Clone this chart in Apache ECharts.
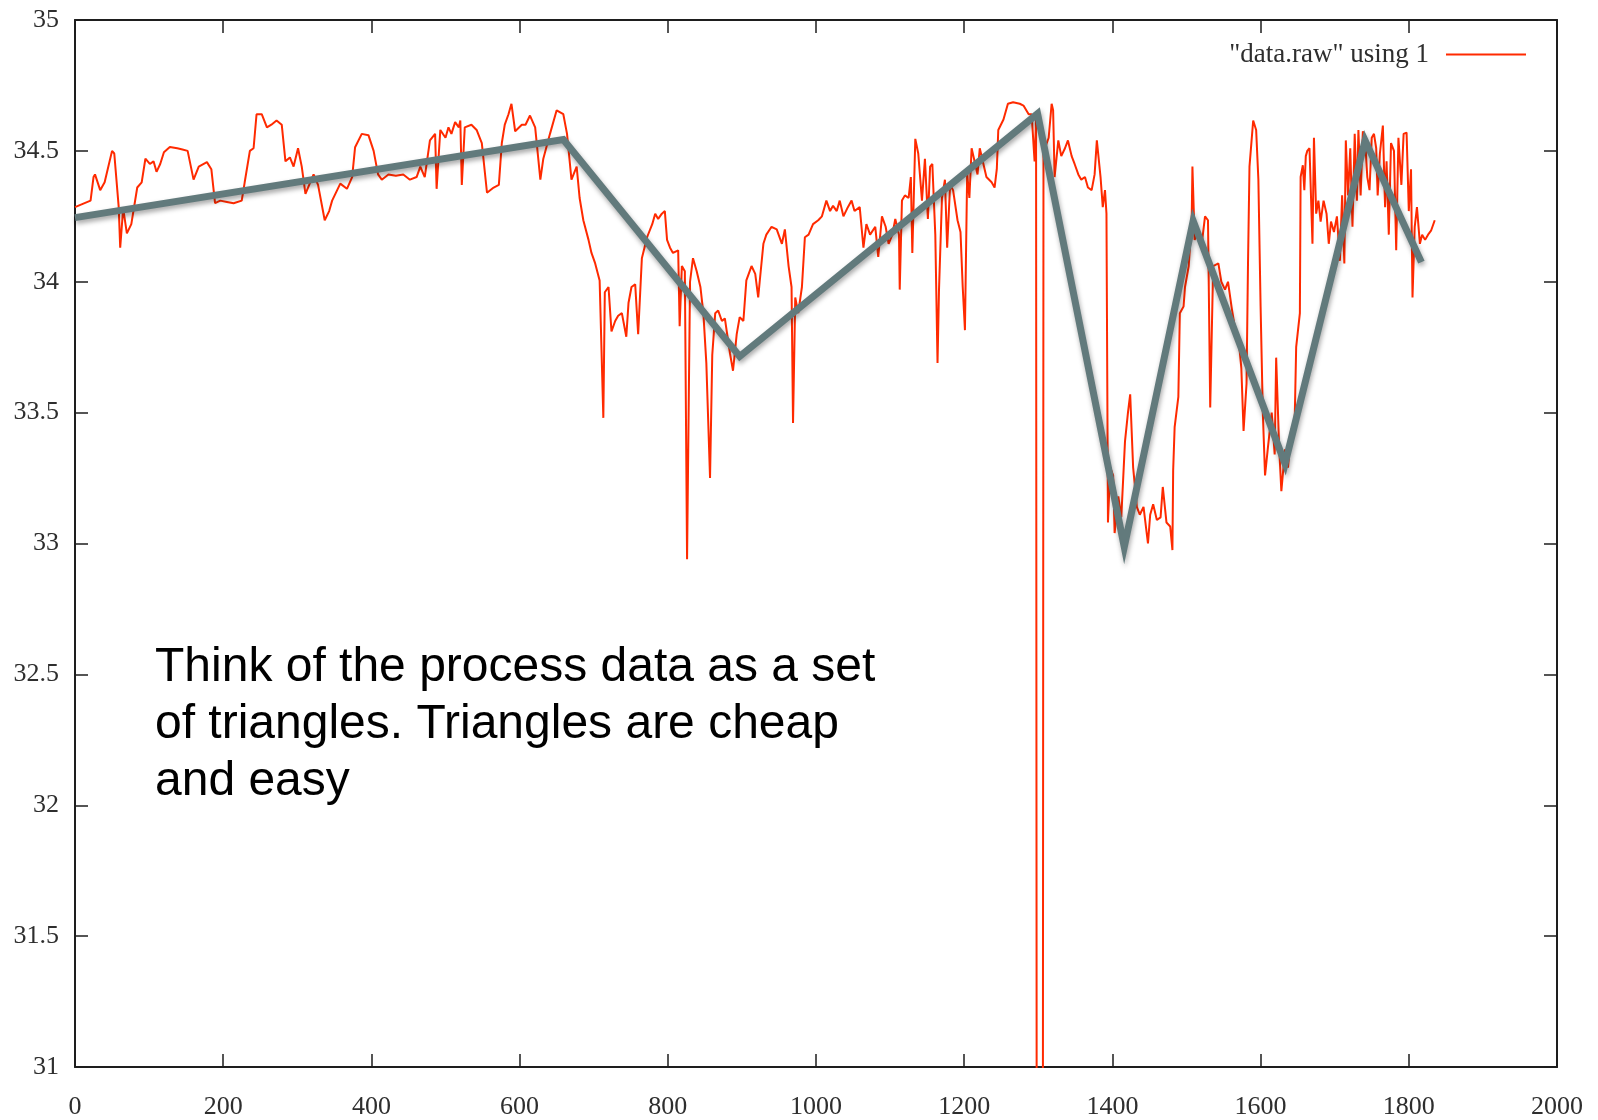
<!DOCTYPE html>
<html>
<head>
<meta charset="utf-8">
<title>data.raw</title>
<script src="https://cdn.jsdelivr.net/npm/echarts@6/dist/echarts.min.js"></script>
<style>
  html, body { margin: 0; padding: 0; background: #ffffff; }
  #chart { width: 1598px; height: 1120px; }
</style>
</head>
<body>
<div id="chart"></div>
<script>
// Sample index (column 0) of the raw process readings
const rawIndex = [
  0, 21, 25, 27, 34, 40, 50, 53, 59, 61,
  65, 70, 76, 84, 90, 95, 101, 106, 110, 115,
  120, 128, 138, 145, 152, 160, 167, 178, 184, 189,
  196, 205, 214, 225, 229, 236, 241, 245, 252, 259,
  265, 272, 279, 284, 290, 295, 301, 306, 311, 322,
  328, 337, 343, 347, 358, 367, 374, 378, 387, 396,
  403, 409, 414, 423, 433, 443, 452, 461, 466, 472,
  479, 486, 488, 493, 500, 504, 508, 513, 518, 520,
  522, 526, 535, 542, 549, 556, 565, 572, 576, 580,
  585, 589, 594, 603, 608, 614, 621, 628, 632, 641,
  650, 659, 664, 670, 677, 681, 686, 693, 697, 702,
  708, 713, 715, 720, 724, 729, 733, 738, 744, 747,
  751, 756, 760, 765, 772, 779, 783, 787, 792, 796,
  799, 803, 807, 814, 816, 819, 823, 826, 830, 834,
  839, 844, 848, 852, 857, 860, 864, 868, 873, 877,
  884, 888, 893, 897, 902, 906, 913, 918, 922, 924,
  929, 933, 940, 947, 954, 958, 963, 967, 969, 972,
  976, 981, 985, 990, 996, 1003, 1008, 1014, 1019, 1023,
  1028, 1032, 1037, 1043, 1048, 1052, 1059, 1064, 1068, 1073,
  1080, 1084, 1089, 1094, 1098, 1103, 1107, 1112, 1113, 1116,
  1120, 1125, 1128, 1130, 1134, 1138, 1143, 1147, 1151, 1154,
  1157, 1161, 1164, 1166, 1170, 1174, 1177, 1181, 1185, 1191,
  1195, 1198, 1201, 1204, 1207, 1210, 1214, 1218, 1221, 1230,
  1237, 1241, 1244, 1246, 1253, 1259, 1266, 1275, 1280, 1287,
  1291, 1295, 1297, 1298, 1306, 1307, 1309, 1314, 1318, 1320,
  1322, 1327, 1331, 1336, 1340, 1345, 1349, 1354, 1358, 1363,
  1367, 1372, 1376, 1379, 1384, 1387, 1390, 1392, 1394, 1397,
  1401, 1403, 1408, 1412, 1417, 1421, 1424, 1428, 1433, 1437,
  1442, 1448, 1451, 1455, 1460, 1465, 1468, 1473, 1478, 1481,
  1482, 1484, 1489, 1491, 1496, 1498, 1503, 1507, 1508, 1511,
  1516, 1520, 1525, 1529, 1532, 1536, 1543, 1547, 1552, 1556,
  1561, 1565, 1570, 1574, 1577, 1581, 1583, 1585, 1590, 1594,
  1597, 1600, 1603, 1606, 1610, 1615, 1619, 1621, 1625, 1628,
  1633, 1637, 1641, 1646, 1648, 1653, 1654, 1657, 1659, 1661,
  1663, 1666, 1670, 1672, 1675, 1678, 1681, 1685, 1689, 1692,
  1695, 1699, 1703, 1707, 1710, 1713, 1715, 1718, 1721, 1724,
  1727, 1730, 1732, 1735, 1738, 1741, 1744, 1747, 1750, 1753,
  1756, 1758, 1761, 1765, 1768, 1770, 1773, 1776, 1780, 1783,
  1786, 1790, 1793, 1797, 1800, 1803, 1805, 1808, 1811, 1815,
  1818, 1822, 1826, 1830, 1835
];

// Raw process readings (column 1 of data.raw), one row per row of rawIndex
const rawValues = [
  34.285, 34.31, 34.40, 34.41, 34.35, 34.38, 34.50, 34.49, 34.285, 34.13,
  34.28, 34.185, 34.22, 34.36, 34.38, 34.47, 34.45, 34.46, 34.42, 34.45,
  34.495, 34.515, 34.51, 34.505, 34.50, 34.39, 34.44, 34.457, 34.43, 34.30,
  34.31, 34.305, 34.30, 34.31, 34.38, 34.50, 34.51, 34.64, 34.64, 34.59,
  34.60, 34.616, 34.60, 34.46, 34.475, 34.44, 34.51, 34.44, 34.336, 34.41,
  34.37, 34.235, 34.27, 34.31, 34.375, 34.355, 34.40, 34.514, 34.565, 34.56,
  34.50, 34.41, 34.39, 34.41, 34.405, 34.41, 34.39, 34.40, 34.44, 34.40,
  34.54, 34.565, 34.355, 34.58, 34.55, 34.59, 34.565, 34.61, 34.59, 34.616,
  34.37, 34.59, 34.60, 34.58, 34.53, 34.34, 34.36, 34.37, 34.53, 34.60,
  34.64, 34.68, 34.575, 34.60, 34.60, 34.635, 34.59, 34.39, 34.47, 34.565,
  34.655, 34.64, 34.565, 34.39, 34.44, 34.32, 34.235, 34.16, 34.11, 34.07,
  34.005, 33.48, 33.96, 33.98, 33.81, 33.85, 33.87, 33.88, 33.79, 33.92,
  33.98, 33.99, 33.80, 34.09, 34.17, 34.22, 34.26, 34.24, 34.26, 34.27,
  34.16, 34.13, 34.11, 34.12, 33.83, 34.06, 34.04, 32.94, 34.00, 34.09,
  34.04, 33.98, 33.88, 33.69, 33.25, 33.72, 33.88, 33.89, 33.85, 33.86,
  33.725, 33.66, 33.80, 33.865, 33.85, 34.005, 34.06, 34.03, 33.94, 34.00,
  34.145, 34.18, 34.21, 34.20, 34.145, 34.20, 34.06, 33.98, 33.46, 33.94,
  33.88, 33.98, 34.17, 34.18, 34.22, 34.235, 34.25, 34.31, 34.27, 34.29,
  34.27, 34.31, 34.25, 34.285, 34.31, 34.27, 34.285, 34.13, 34.22, 34.18,
  34.21, 34.095, 34.25, 34.21, 34.145, 34.18, 34.24, 34.18, 33.97, 34.31,
  34.33, 34.32, 34.40, 34.11, 34.546, 34.49, 34.31, 34.47, 34.24, 34.44,
  34.45, 34.18, 33.69, 33.97, 34.32, 34.39, 34.13, 34.37, 34.35, 34.235,
  34.19, 33.98, 33.815, 34.415, 34.32, 34.51, 34.46, 34.41, 34.51, 34.40,
  34.38, 34.36, 34.43, 34.58, 34.62, 34.68, 34.686, 34.68, 34.673, 34.64,
  34.64, 34.46, 34.62, 30.0, 30.0, 34.55, 34.51, 34.55, 34.68, 34.655,
  34.40, 34.54, 34.48, 34.51, 34.54, 34.48, 34.45, 34.41, 34.39, 34.40,
  34.36, 34.35, 34.41, 34.54, 34.40, 34.285, 34.35, 34.26, 33.08, 33.29,
  33.26, 33.04, 33.18, 33.10, 33.39, 33.50, 33.57, 33.29, 33.14, 33.11,
  33.14, 33.00, 33.11, 33.15, 33.09, 33.10, 33.216, 33.08, 33.065, 32.975,
  33.28, 33.445, 33.56, 33.88, 33.905, 33.98, 34.06, 34.235, 34.44, 34.16,
  34.20, 34.13, 34.25, 34.235, 33.52, 34.06, 34.07, 34.00, 33.97, 34.00,
  33.90, 33.83, 33.79, 33.67, 33.43, 33.61, 34.07, 34.44, 34.616, 34.58,
  34.39, 33.905, 33.50, 33.26, 33.37, 33.50, 33.34, 33.71, 33.37, 33.20,
  33.36, 33.29, 33.43, 33.47, 33.75, 33.88, 34.40, 34.445, 34.35, 34.48,
  34.50, 34.51, 34.145, 34.55, 34.26, 34.31, 34.23, 34.31, 34.26, 34.145,
  34.23, 34.19, 34.25, 34.08, 34.33, 34.07, 34.54, 34.33, 34.51, 34.21,
  34.565, 34.31, 34.58, 34.33, 34.575, 34.54, 34.40, 34.35, 34.55, 34.565,
  34.51, 34.33, 34.49, 34.597, 34.285, 34.46, 34.18, 34.53, 34.50, 34.12,
  34.55, 34.37, 34.565, 34.57, 34.27, 34.43, 33.94, 34.21, 34.285, 34.145,
  34.18, 34.16, 34.18, 34.195, 34.235
];

// Piecewise-linear "triangle" approximation of the process
const triangleIndex = [0, 659, 897, 1299, 1416, 1509, 1633, 1741, 1817];
const triangleValues = [34.245, 34.543, 33.715, 34.642, 32.987, 34.232, 33.305, 34.54, 34.075];

// Axis ranges and ticks
const xTicks = { min: 0, max: 2000, step: 200 };
const yTicks = { min: 31, max: 35, step: 0.5 };

const seriesName = '"data.raw" using 1';
const noteLines = [
  'Think of the process data as a set',
  'of triangles. Triangles are cheap',
  'and easy'
];

const rawPoints = rawIndex.map((x, i) => [x, rawValues[i]]);
const trianglePoints = triangleIndex.map((x, i) => [x, triangleValues[i]]);

const serif = '"Liberation Serif", "DejaVu Serif", serif';
const axisColor = '#1e1e1e';
const labelColor = '#2e2e2e';

function frameAxis(position, range, showLabels, isX) {
  return {
    type: 'value',
    position: position,
    min: range.min,
    max: range.max,
    interval: range.step,
    splitLine: { show: false },
    axisLine: { show: true, onZero: false, lineStyle: { color: axisColor, width: 2 } },
    axisTick: { show: true, inside: true, length: 13, lineStyle: { color: axisColor, width: 1.5 } },
    axisLabel: {
      show: showLabels,
      color: labelColor,
      fontFamily: serif,
      fontSize: 26,
      margin: isX ? 27 : 16,
      formatter: (v) => String(v)
    }
  };
}

const chart = echarts.init(document.getElementById('chart'), null, { renderer: 'canvas' });

chart.setOption({
  backgroundColor: '#ffffff',
  animation: false,
  grid: { left: 75, right: 41, top: 20, bottom: 53, outerBoundsMode: 'none' },
  legend: {
    right: 67,
    top: 36,
    align: 'right',
    itemWidth: 80,
    itemHeight: 2,
    data: [{ name: seriesName, icon: 'rect' }],
    textStyle: {
      fontFamily: serif,
      fontSize: 27,
      color: labelColor,
      padding: [0, 12, 0, 0]
    }
  },
  xAxis: [
    frameAxis('bottom', xTicks, true, true),
    frameAxis('top', xTicks, false, true)
  ],
  yAxis: [
    frameAxis('left', yTicks, true, false),
    frameAxis('right', yTicks, false, false)
  ],
  series: [
    {
      name: seriesName,
      type: 'line',
      data: rawPoints,
      showSymbol: false,
      clip: true,
      color: '#ff2a00',
      lineStyle: { color: '#ff2a00', width: 2 },
      itemStyle: { color: '#ff2a00' },
      z: 2
    },
    {
      name: 'triangles',
      type: 'line',
      data: trianglePoints,
      showSymbol: false,
      clip: true,
      lineStyle: {
        color: '#627a7c',
        width: 7,
        join: 'miter',
        shadowColor: 'rgba(0,0,0,0.35)',
        shadowBlur: 5,
        shadowOffsetX: 1,
        shadowOffsetY: 3
      },
      z: 3
    }
  ],
  graphic: [
    {
      type: 'text',
      left: 155,
      top: 639,
      style: {
        text: noteLines.join('\n'),
        font: '48px "Liberation Sans", Arial, sans-serif',
        lineHeight: 57,
        fill: '#000000'
      },
      z: 10
    }
  ]
});
</script>
</body>
</html>
